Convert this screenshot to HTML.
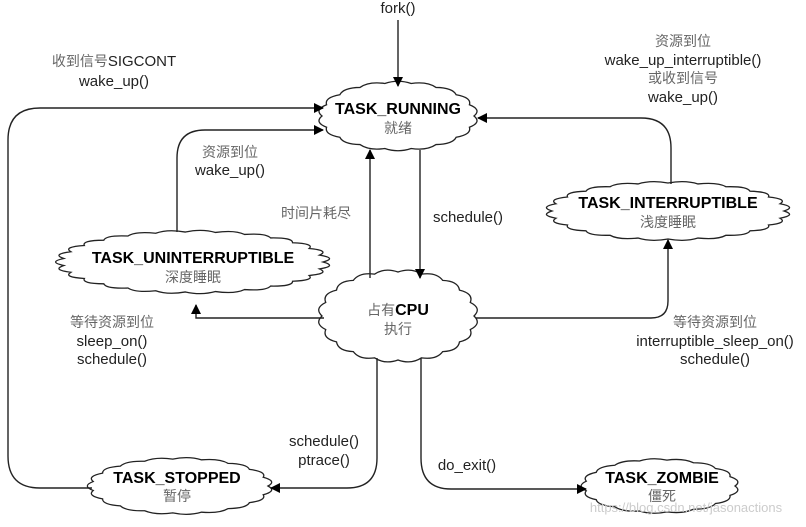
<!DOCTYPE html>
<html><head><meta charset="utf-8"><style>
html,body{margin:0;padding:0;background:#fff;}
svg{display:block;}
text{font-family:"Liberation Sans","Noto Sans CJK SC",sans-serif;font-size:15px;fill:#222;text-anchor:middle;}
.b{font-weight:bold;font-size:16px;fill:#000;}
.g{fill:#666;font-size:14px;}
</style></head><body>
<svg id="s" width="806" height="527" viewBox="0 0 806 527" xmlns="http://www.w3.org/2000/svg">
<defs><marker id="a" markerWidth="10" markerHeight="10" refX="9" refY="5" orient="auto" markerUnits="userSpaceOnUse"><path d="M0,0 L10,5 L0,10 z" fill="#000"/></marker></defs>
<g id="clouds" fill="#fff" stroke="#222" stroke-width="1.3"></g>
<g fill="none" stroke="#222" stroke-width="1.4">
<path d="M398,20 V86" marker-end="url(#a)"/>
<path d="M92,488 H40 Q8,488 8,456 V140 Q8,108 40,108 H323" marker-end="url(#a)"/>
<path d="M177,232 V158 Q177,130 205,130 H323" marker-end="url(#a)"/>
<path d="M370,278 V150" marker-end="url(#a)"/>
<path d="M420,150 V278" marker-end="url(#a)"/>
<path d="M671,184 V148 Q671,118 641,118 H478" marker-end="url(#a)"/>
<path d="M476,318 H651 Q668,318 668,301 V240" marker-end="url(#a)"/>
<path d="M324,318 H196 V305" marker-end="url(#a)"/>
<path d="M377,358 V458 Q377,488 347,488 H271" marker-end="url(#a)"/>
<path d="M421,358 V458 Q421,489 451,489 H586" marker-end="url(#a)"/>
</g>
<text x="398" y="13">fork()</text>
<text x="114" y="66" class="g">收到信号<tspan fill="#222" style="font-size:15px">SIGCONT</tspan></text>
<text x="114" y="86">wake_up()</text>
<text x="230" y="157" class="g">资源到位</text>
<text x="230" y="175">wake_up()</text>
<text x="316" y="218" class="g">时间片耗尽</text>
<text x="468" y="222">schedule()</text>
<text x="683" y="46" class="g">资源到位</text>
<text x="683" y="65">wake_up_interruptible()</text>
<text x="683" y="83" class="g">或收到信号</text>
<text x="683" y="102">wake_up()</text>
<text x="112" y="327" class="g">等待资源到位</text>
<text x="112" y="346">sleep_on()</text>
<text x="112" y="364">schedule()</text>
<text x="715" y="327" class="g">等待资源到位</text>
<text x="715" y="346">interruptible_sleep_on()</text>
<text x="715" y="364">schedule()</text>
<text x="324" y="446">schedule()</text>
<text x="324" y="465">ptrace()</text>
<text x="467" y="470">do_exit()</text>
<text x="398" y="114" class="b">TASK_RUNNING</text>
<text x="398" y="133" class="g">就绪</text>
<text x="668" y="208" class="b">TASK_INTERRUPTIBLE</text>
<text x="668" y="227" class="g">浅度睡眠</text>
<text x="193" y="263" class="b">TASK_UNINTERRUPTIBLE</text>
<text x="193" y="282" class="g">深度睡眠</text>
<text x="398" y="315" class="g">占有<tspan class="b">CPU</tspan></text>
<text x="398" y="334" class="g">执行</text>
<text x="177" y="483" class="b">TASK_STOPPED</text>
<text x="177" y="501" class="g">暂停</text>
<text x="662" y="483" class="b">TASK_ZOMBIE</text>
<text x="662" y="501" class="g">僵死</text>
<text x="686" y="512" style="font-size:13px;fill:#ccc;">https://blog.csdn.net/jasonactions</text>
</svg>
<script>
var C=[[398,116,76,33],[668,211,116,28],[193,262,130,30],[398,316,76,44],[180,486,88,27],[660,486,75,26]];
var g=document.getElementById('clouds');
C.forEach(function(c){
 var n=Math.round((c[2]+c[3])/6),d='';
 for(var i=0;i<=n;i++){var t=i/n*2*Math.PI,x=c[0]+c[2]*Math.cos(t),y=c[1]+c[3]*Math.sin(t);
  if(i==0)d+='M'+x+','+y;else{var tm=(i-0.5)/n*2*Math.PI,k=1.12;d+=' Q'+(c[0]+c[2]*k*Math.cos(tm))+','+(c[1]+c[3]*k*Math.sin(tm))+' '+x+','+y;}}
 var p=document.createElementNS('http://www.w3.org/2000/svg','path');p.setAttribute('d',d+'Z');g.appendChild(p);
});
</script>
</body></html>
